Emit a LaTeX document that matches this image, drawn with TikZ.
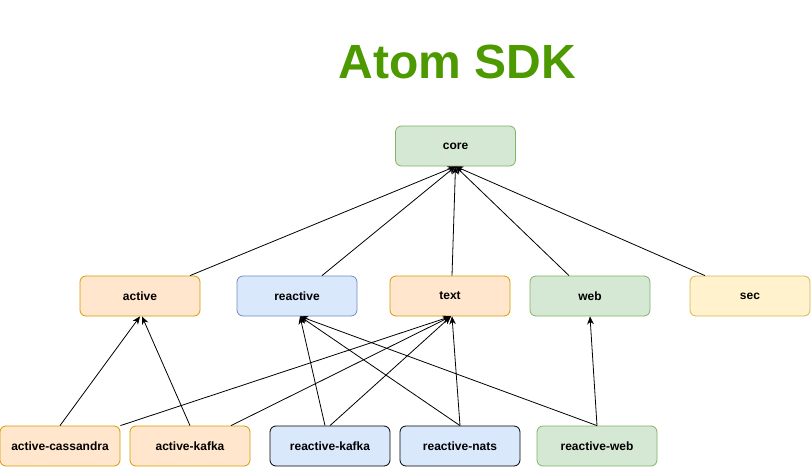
\documentclass[tikz,border=0pt]{standalone}
\usepackage{fontspec}
\setmainfont{Liberation Sans}
\usetikzlibrary{arrows.meta}
\definecolor{orfill}{HTML}{FFE6CC}\definecolor{ordraw}{HTML}{D79B00}
\definecolor{blfill}{HTML}{DAE8FC}\definecolor{bldraw}{HTML}{6C8EBF}
\definecolor{grfill}{HTML}{D5E8D4}\definecolor{grdraw}{HTML}{82B366}
\definecolor{yefill}{HTML}{FFF2CC}\definecolor{yedraw}{HTML}{D6B656}
\definecolor{titlegreen}{HTML}{4D9900}
\tikzset{
  box/.style={rectangle, rounded corners=4.5pt, minimum width=90pt, minimum height=30pt, inner sep=0pt, font=\fontsize{9}{11}\selectfont\bfseries, line width=0.6pt},
  orbox/.style={box, fill=orfill, draw=ordraw},
  blbox/.style={box, fill=blfill, draw=bldraw},
  bkbox/.style={box, fill=blfill, draw=black},
  grbox/.style={box, fill=grfill, draw=grdraw},
  yebox/.style={box, fill=yefill, draw=yedraw},
  dep/.style={-{Stealth[length=6pt,width=5pt]}, line width=0.6pt, black}
}
\begin{document}
\begin{tikzpicture}[x=0.75pt,y=-0.75pt]
\useasboundingbox (0,0) rectangle (811,467);
\node[font=\fontsize{36}{40}\selectfont\bfseries, text=titlegreen] (title) at (457.5,62) {Atom SDK};
\node[grbox] (core) at (455.5,146) {core};
\node[orbox] (active) at (140,296) {active};
\node[blbox] (reactive) at (297,296) {reactive};
\node[orbox] (text) at (450,296) {text};
\node[grbox] (web) at (590,296) {web};
\node[yebox] (sec) at (750,296) {sec};
\node[orbox] (acass) at (60,446) {active-cassandra};
\node[orbox] (akafka) at (190,446) {active-kafka};
\node[bkbox] (rkafka) at (330,446) {reactive-kafka};
\node[bkbox] (rnats) at (460,446) {reactive-nats};
\node[grbox] (rweb) at (597,446) {reactive-web};
% to core
\draw[dep] ([xshift=37.5pt]active.north) -- (core.south);
\draw[dep] ([xshift=18.75pt]reactive.north) -- (core.south);
\draw[dep] ([xshift=1.5pt]text.north) -- (core.south);
\draw[dep] ([xshift=-15.75pt]web.north) -- (core.south);
\draw[dep] ([xshift=-33.75pt]sec.north) -- (core.south);
% to active
\draw[dep] (acass.north) -- (active.south);
\draw[dep] (akafka.north) -- ([xshift=1.5pt]active.south);
% to text
\draw[dep] (acass.north east) -- ([xshift=0.75pt]text.south);
\draw[dep] ([xshift=30.75pt]akafka.north) -- ([xshift=0.75pt]text.south);
\draw[dep] (rkafka.north) -- ([xshift=0.75pt]text.south);
\draw[dep] (rnats.north) -- ([xshift=1.5pt]text.south);
% to reactive
\draw[dep] ([xshift=-3.75pt]rkafka.north) -- ([xshift=2.25pt]reactive.south);
\draw[dep] (rnats.north) -- ([xshift=2.25pt]reactive.south);
\draw[dep] (rweb.north) -- ([xshift=2.25pt]reactive.south);
% to web
\draw[dep] (rweb.north) -- (web.south);
\end{tikzpicture}
\end{document}
